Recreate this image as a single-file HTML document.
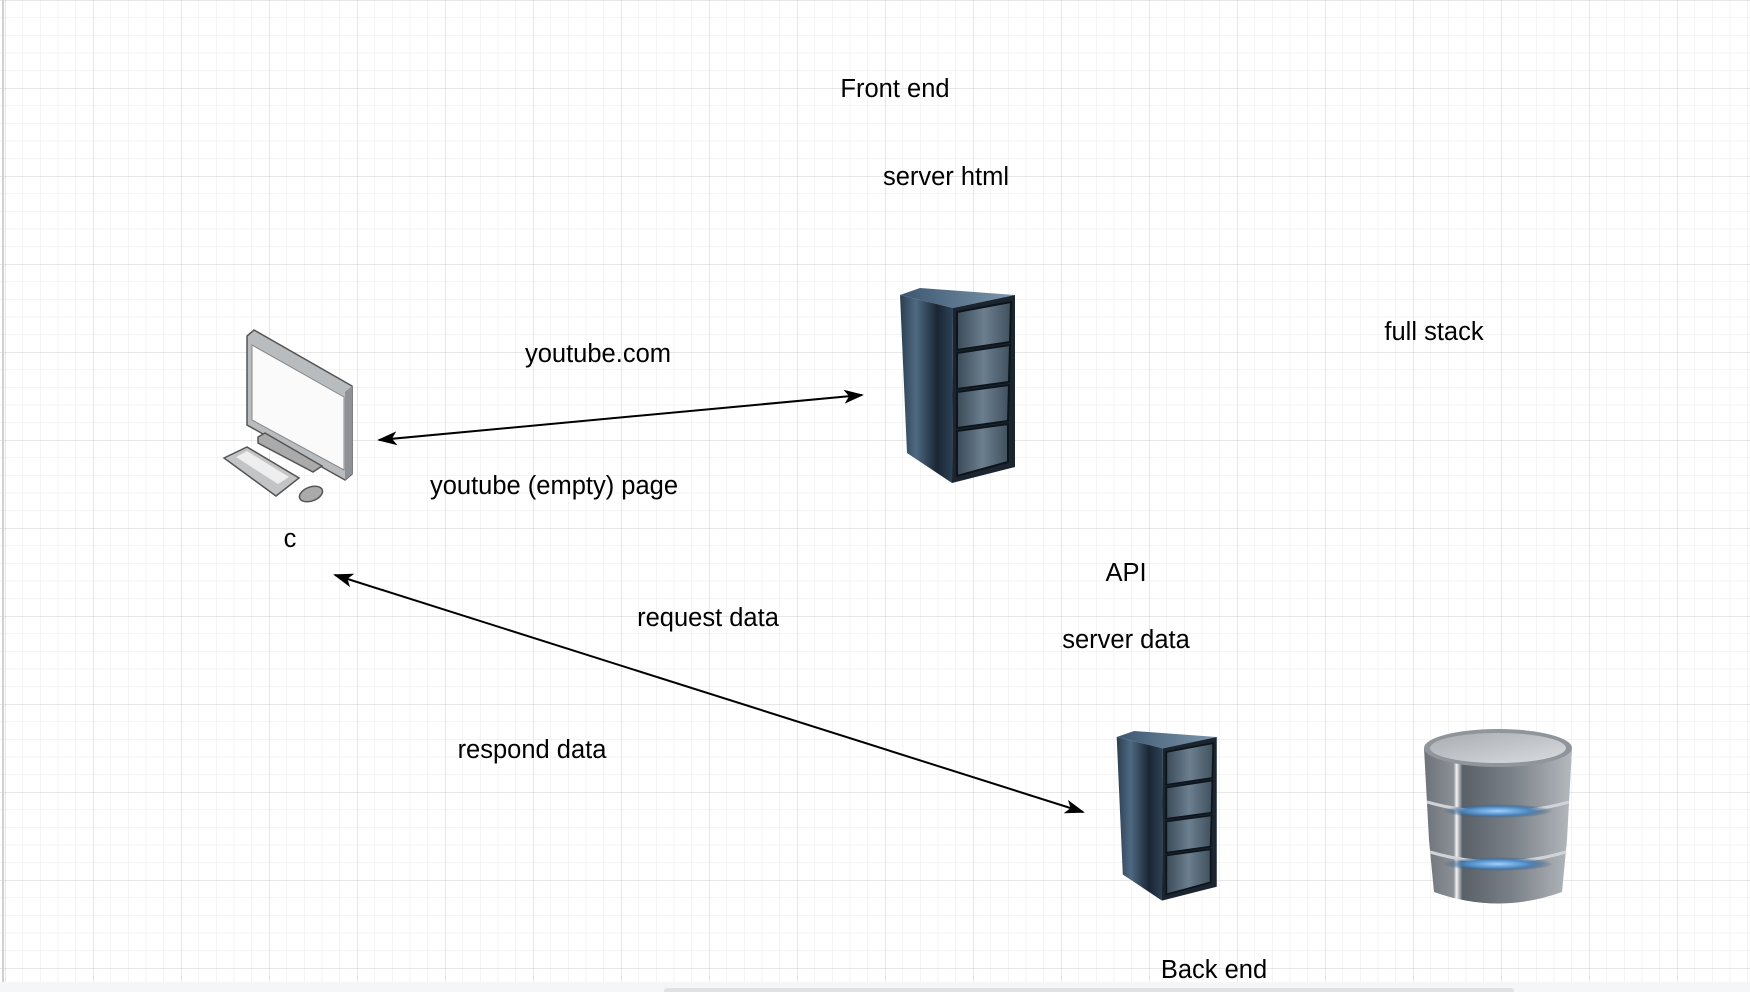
<!DOCTYPE html>
<html><head><meta charset="utf-8"><style>
html,body{margin:0;padding:0;background:#fff;}
body{width:1750px;height:992px;overflow:hidden;position:relative;font-family:"Liberation Sans",Arial,sans-serif;}
svg{position:absolute;left:0;top:0;}
</style></head><body>
<svg width="1750" height="992" viewBox="0 0 1750 992" xmlns="http://www.w3.org/2000/svg">
<defs>
<pattern id="minor" x="5" y="0" width="17.6" height="17.6" patternUnits="userSpaceOnUse">
<path d="M0 0V17.6M0 0H17.6" stroke="#e8e8e8" stroke-width="1" fill="none"/>
</pattern>
<pattern id="major" x="5" y="0" width="88" height="88" patternUnits="userSpaceOnUse">
<path d="M0 0V88M0 0H88" stroke="#cfcfcf" stroke-width="1" fill="none"/>
</pattern>
<linearGradient id="side" x1="0" x2="1" y1="0" y2="0">
<stop offset="0" stop-color="#2c3e50"/><stop offset="0.3" stop-color="#4e6a82"/><stop offset="0.7" stop-color="#1a2634"/><stop offset="1" stop-color="#2d4257"/>
</linearGradient>
<linearGradient id="top" x1="0" x2="1"><stop offset="0" stop-color="#3d5670"/><stop offset="1" stop-color="#7d97ad"/></linearGradient>
<linearGradient id="bay" x1="0" x2="1"><stop offset="0" stop-color="#3a4a58"/><stop offset="0.5" stop-color="#6c7f8f"/><stop offset="1" stop-color="#40505e"/></linearGradient>
<linearGradient id="cyl" x1="0" x2="1">
<stop offset="0" stop-color="#6d7378"/><stop offset="0.2" stop-color="#8a9096"/><stop offset="0.22" stop-color="#f2f4f6"/><stop offset="0.26" stop-color="#5a6067"/><stop offset="0.6" stop-color="#7b8188"/><stop offset="1" stop-color="#b4b9be"/>
</linearGradient>
<linearGradient id="cyltop" x1="0" x2="1" y1="0" y2="1"><stop offset="0" stop-color="#a8adb2"/><stop offset="1" stop-color="#d9dcdf"/></linearGradient>
<radialGradient id="blue" cx="0.5" cy="0.5" r="0.5"><stop offset="0" stop-color="#9fd0ff"/><stop offset="0.6" stop-color="#4a86c0"/><stop offset="1" stop-color="#2e4f70" stop-opacity="0"/></radialGradient>
<marker id="ah" viewBox="0 0 20 14" refX="18" refY="7" markerWidth="20" markerHeight="14" markerUnits="userSpaceOnUse" orient="auto-start-reverse">
<path d="M0 0L20 7L0 14L5 7Z" fill="#000"/>
</marker>
<g id="server">
<polygon points="10,15 30,8 125,15 63,28" fill="url(#top)"/>
<polygon points="10,15 63,28 62,203 17,173" fill="url(#side)"/>
<polygon points="63,28 125,15 125,187 62,203" fill="#1b2530"/>
<polygon points="67,32 121,22 120,62 67,70" fill="url(#bay)" stroke="#0d141b" stroke-width="2"/>
<polygon points="67,73 120,65 119,102 67,109" fill="url(#bay)" stroke="#0d141b" stroke-width="2"/>
<polygon points="67,112 119,105 118,141 67,148" fill="url(#bay)" stroke="#0d141b" stroke-width="2"/>
<polygon points="67,151 118,144 118,182 67,196" fill="url(#bay)" stroke="#0d141b" stroke-width="2"/>
</g>
</defs>
<rect width="1750" height="992" fill="#fff"/>
<rect width="1750" height="992" fill="url(#minor)"/>
<rect width="1750" height="992" fill="url(#major)"/>
<line x1="3" y1="0" x2="3" y2="992" stroke="#d0d0d0" stroke-width="2"/>

<!-- computer -->
<g>
<polygon points="247,336 254,330 352,386 352,474 345,480 247,425" fill="#b9bcbf" stroke="#555" stroke-width="1.5"/>
<polygon points="252,345 344,397 344,470 252,420" fill="#fafafa" stroke="#888" stroke-width="1"/>
<polygon points="345,392 352,386 352,474 345,480" fill="#8e9296"/>
<polygon points="258,437 265,433 322,466 313,472 258,443" fill="#aaa" stroke="#555" stroke-width="1.5"/>
<polygon points="224,458 247,447 299,478 276,496" fill="#c2c4c6" stroke="#555" stroke-width="1.5"/>
<polygon points="236,457 247,451 289,477 278,484" fill="#eee"/>
<ellipse cx="311" cy="494" rx="12" ry="7" fill="#aaa" stroke="#555" stroke-width="1.5" transform="rotate(-20 311 494)"/>
</g>

<use href="#server" transform="translate(890,280)"/>
<use href="#server" transform="translate(1108,724) scale(0.87,0.87)"/>

<!-- database -->
<g transform="translate(1415,720)">
<path d="M9,28 L157,28 L152,120 L147,172 Q83,195 19,172 L14,120 Z" fill="url(#cyl)"/>
<path d="M12,82 Q83,102 154,82" stroke="#d0d4d8" stroke-width="3" fill="none"/>
<path d="M15,132 Q83,152 151,132" stroke="#d0d4d8" stroke-width="3" fill="none"/>
<ellipse cx="83" cy="91" rx="55" ry="7" fill="url(#blue)"/>
<ellipse cx="83" cy="144" rx="55" ry="7" fill="url(#blue)"/>
<ellipse cx="83" cy="28" rx="74" ry="19" fill="#8f959b"/>
<ellipse cx="83" cy="28" rx="68" ry="15" fill="url(#cyltop)"/>
</g>

<!-- arrows -->
<line x1="379" y1="440" x2="862" y2="395" stroke="#000" stroke-width="2" marker-start="url(#ah)" marker-end="url(#ah)"/>
<line x1="335" y1="575" x2="1083" y2="812" stroke="#000" stroke-width="2" marker-start="url(#ah)" marker-end="url(#ah)"/>

<g font-family="Liberation Sans, Arial, sans-serif" font-size="25.5" fill="#000" text-anchor="middle" dominant-baseline="central">
<text x="895" y="89">Front end</text>
<text x="946" y="177">server html</text>
<text x="1434" y="332">full stack</text>
<text x="598" y="354">youtube.com</text>
<text x="554" y="486">youtube (empty) page</text>
<text x="290" y="539">c</text>
<text x="1126" y="573">API</text>
<text x="1126" y="640">server data</text>
<text x="708" y="618">request data</text>
<text x="532" y="750">respond data</text>
<text x="1214" y="970">Back end</text>
</g>

<rect x="0" y="982" width="1750" height="10" fill="#f5f6f7"/>
<rect x="664" y="988" width="850" height="6" rx="3" fill="#dfe1e3"/>
</svg>
</body></html>
